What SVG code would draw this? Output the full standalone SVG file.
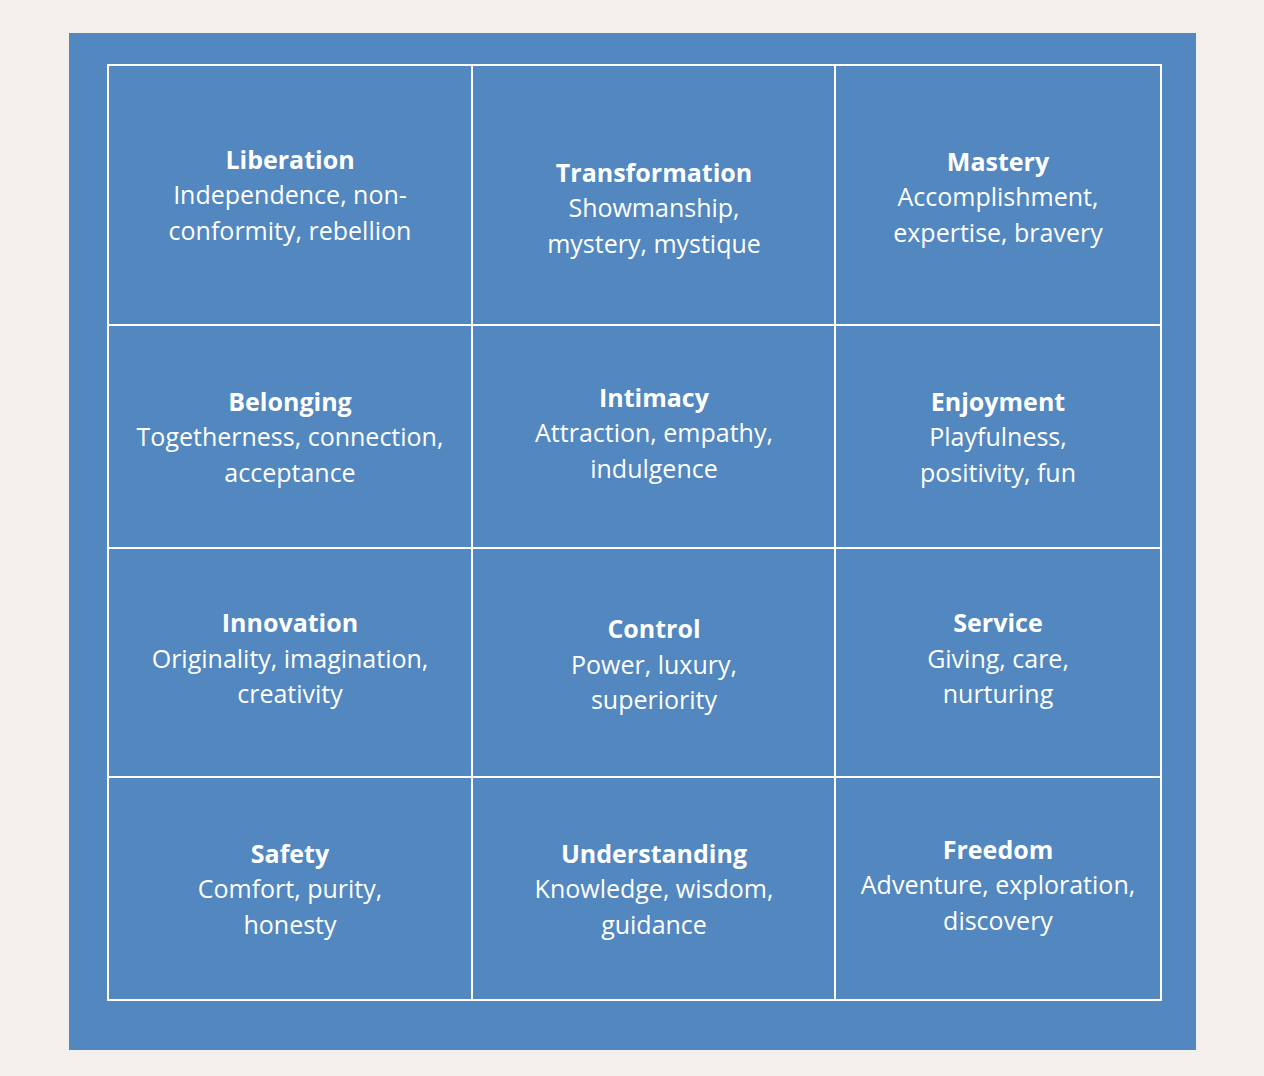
<svg xmlns="http://www.w3.org/2000/svg" width="1264" height="1076" viewBox="0 0 1264 1076">
<style>
text{font-family:"Open Sans","Noto Sans",sans-serif;font-size:25px;fill:#fff;text-anchor:middle}
.t{font-weight:bold}
.g{fill:none;stroke:#fff;stroke-width:2}
</style>
<rect width="1264" height="1076" fill="#f3f0eb"/>
<rect x="69" y="33" width="1127" height="1017" fill="#5287c0"/>
<g id="grid">
<rect class="g" x="108" y="65" width="1053" height="935"/>
<path class="g" d="M472 65V1000M835 65V1000M108 325H1161M108 548H1161M108 777H1161"/>
</g>
<g id="liberation"><text class="t" x="290" y="169">Liberation</text><text x="290" y="204">Independence, non-</text><text x="290" y="240">conformity, rebellion</text></g>
<g id="transformation"><text class="t" x="654" y="182">Transformation</text><text x="654" y="217">Showmanship,</text><text x="654" y="253">mystery, mystique</text></g>
<g id="mastery"><text class="t" x="998" y="171">Mastery</text><text x="998" y="206">Accomplishment,</text><text x="998" y="242">expertise, bravery</text></g>
<g id="belonging"><text class="t" x="290" y="411">Belonging</text><text x="290" y="446">Togetherness, connection,</text><text x="290" y="482">acceptance</text></g>
<g id="intimacy"><text class="t" x="654" y="407">Intimacy</text><text x="654" y="442">Attraction, empathy,</text><text x="654" y="478">indulgence</text></g>
<g id="enjoyment"><text class="t" x="998" y="411">Enjoyment</text><text x="998" y="446">Playfulness,</text><text x="998" y="482">positivity, fun</text></g>
<g id="innovation"><text class="t" x="290" y="632">Innovation</text><text x="290" y="668">Originality, imagination,</text><text x="290" y="703">creativity</text></g>
<g id="control"><text class="t" x="654" y="638">Control</text><text x="654" y="674">Power, luxury,</text><text x="654" y="709">superiority</text></g>
<g id="service"><text class="t" x="998" y="632">Service</text><text x="998" y="668">Giving, care,</text><text x="998" y="703">nurturing</text></g>
<g id="safety"><text class="t" x="290" y="863">Safety</text><text x="290" y="898">Comfort, purity,</text><text x="290" y="934">honesty</text></g>
<g id="understanding"><text class="t" x="654" y="863">Understanding</text><text x="654" y="898">Knowledge, wisdom,</text><text x="654" y="934">guidance</text></g>
<g id="freedom"><text class="t" x="998" y="859">Freedom</text><text x="998" y="894">Adventure, exploration,</text><text x="998" y="930">discovery</text></g>
</svg>
